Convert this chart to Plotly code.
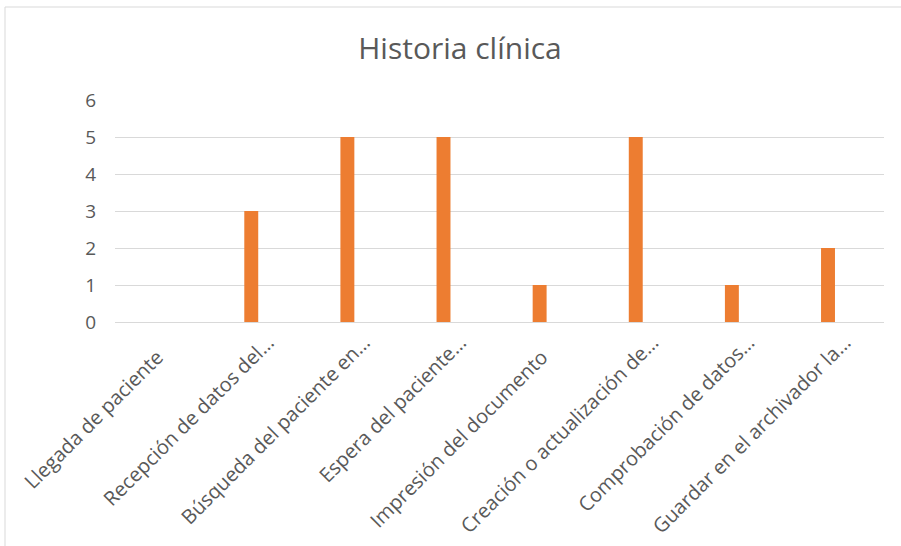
import plotly.graph_objects as go

# Process steps and their counts
NBSP = "\u00a0"
pasos = [
    "Llegada de paciente" + NBSP * 4,
    "Recepción de datos del…",
    "Búsqueda del paciente en…",
    "Espera del paciente…",
    "Impresión del documento" + NBSP * 4,
    "Creación o actualización de…",
    "Comprobación de datos…",
    "Guardar en el archivador la…",
]
valores = [0, 3, 5, 5, 1, 5, 1, 2]
y_ticks = [0, 1, 2, 3, 4, 5, 6]

ORANGE = "#ED7D31"
GRID = "#D9D9D9"
TEXT = "#595959"
FONT = "Open Sans"

fig = go.Figure(
    go.Bar(
        x=list(range(len(pasos))),
        y=valores,
        marker=dict(color=ORANGE, line=dict(width=0)),
        width=0.145,
        offset=-0.155,
        hoverinfo="x+y",
    )
)

W, H = 901, 546
ml, mr, mt, mb = 115, 17, 100, 224
pw, ph = W - ml - mr, H - mt - mb

fig.update_layout(
    width=W,
    height=H,
    margin=dict(l=ml, r=mr, t=mt, b=mb, autoexpand=False),
    paper_bgcolor="white",
    plot_bgcolor="white",
    showlegend=False,
    font=dict(family=FONT, color=TEXT),
    title=dict(
        text="Historia clínica",
        x=460 / W,
        xref="container",
        xanchor="center",
        y=1 - 48 / H,
        yref="container",
        yanchor="middle",
        font=dict(family=FONT, size=30, color=TEXT),
    ),
    xaxis=dict(
        range=[-0.5, len(pasos) - 0.5],
        tickmode="array",
        tickvals=list(range(len(pasos))),
        ticktext=pasos,
        tickangle=-45,
        tickfont=dict(family=FONT, size=20, color=TEXT),
        showgrid=False,
        zeroline=False,
        showline=True,
        linecolor=GRID,
        linewidth=1,
        ticks="",
        ticklabelstandoff=0,
        ticklabelshift=9,
        automargin=False,
        fixedrange=True,
    ),
    yaxis=dict(
        range=[0, 6],
        tickmode="array",
        tickvals=y_ticks,
        tickfont=dict(family=FONT, size=19, color=TEXT),
        showgrid=True,
        gridcolor=GRID,
        gridwidth=1,
        zeroline=False,
        showline=False,
        ticks="",
        ticklabelstandoff=18,
        automargin=False,
        fixedrange=True,
    ),
    shapes=[
        dict(
            type="rect",
            xref="paper",
            yref="paper",
            x0=(5 - ml) / pw,
            x1=(W + 5 - ml) / pw,
            y0=(H - mb - (H + 5)) / ph,
            y1=(H - mb - 7) / ph,
            line=dict(color="#D9D9D9", width=1),
            fillcolor="rgba(0,0,0,0)",
            layer="below",
        )
    ],
)

fig.write_html("out.html")
